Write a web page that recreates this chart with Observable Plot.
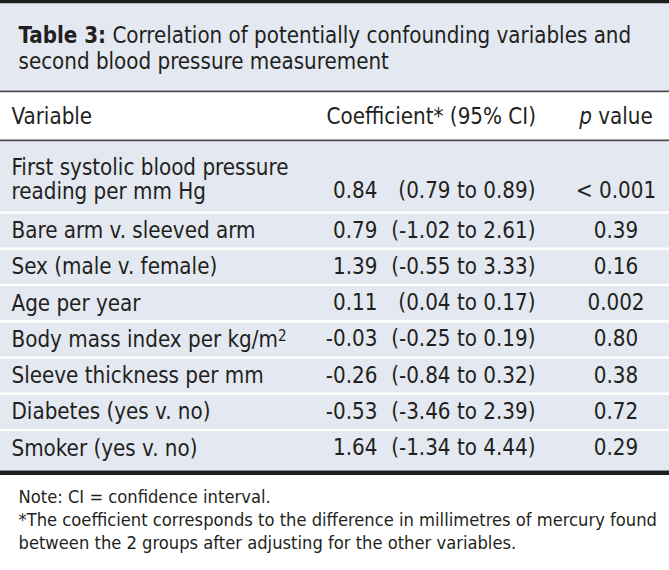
<!DOCTYPE html>
<html>
<head>
<meta charset="utf-8">
<script src="https://cdn.jsdelivr.net/npm/d3@7"></script>
<script src="https://cdn.jsdelivr.net/npm/@observablehq/plot@0.6"></script>
<style>
  html, body { margin: 0; padding: 0; background: #ffffff; }
  #chart svg { display: block; }
</style>
</head>
<body>
<div id="chart"></div>
<script>
// ---- data ----
const titleBold = "Table 3:";
const titleRest = " Correlation of potentially confounding variables and";
const titleLine2 = "second blood pressure measurement";
const headerVariable = "Variable";
const headerCoef = "Coefficient* (95% CI)";
const headerP = ["p", " value"];
const variables = [
  "First systolic blood pressure\nreading per mm Hg",
  "Bare arm v. sleeved arm",
  "Sex (male v. female)",
  "Age per year",
  "Body mass index per kg/m²",
  "Sleeve thickness per mm",
  "Diabetes (yes v. no)",
  "Smoker (yes v. no)"
];
const coefficients = [0.84, 0.79, 1.39, 0.11, -0.03, -0.26, -0.53, 1.64];
const ciLow = [0.79, -1.02, -0.55, 0.04, -0.25, -0.84, -3.46, -1.34];
const ciHigh = [0.89, 2.61, 3.33, 0.17, 0.19, 0.32, 2.39, 4.44];
const pValues = ["< 0.001", "0.39", "0.16", "0.002", "0.80", "0.38", "0.72", "0.29"];
const notes = [
  "Note: CI = confidence interval.",
  "*The coefficient corresponds to the difference in millimetres of mercury found",
  "between the 2 groups after adjusting for the other variables."
];

// ---- style / layout ----
const W = 669, H = 570;
const FONT = "'DejaVu Sans Condensed', 'DejaVu Sans', sans-serif";
const INK = "#231f20";
const PANEL = "#e3e8f1";
const DARK = "#1e1e1e";
const RULE = "#4d4d4d";

const canvas = document.createElement("canvas");
const ctx = canvas.getContext("2d");
function measure(text, size, weight = "normal", style = "normal") {
  ctx.font = `${style} ${weight} ${size}px ${FONT}`;
  return ctx.measureText(text).width;
}
function fit(text, target, weight = "normal") {
  return 20 * target / measure(text, 20, weight);
}
const bodySize = fit("Bare arm v. sleeved arm", 244);
const titleSize = 20 * 613 / (measure(titleBold, 20, "bold") + measure(titleRest, 20));
const noteSize = fit(notes[1], 639);

const fmt = v => d3.format(".2f")(v).replace("\u2212", "-");

// rows layout
const bodyTop = 142, firstRowH = 70, rowH = 36.25, bodyBottom = 470.5;
const lineGap = 24;
const rows = variables.map((v, i) => {
  const top = i === 0 ? bodyTop : bodyTop + firstRowH + (i - 1) * rowH;
  const nLines = v.split("\n").length;
  const center = i === 0 ? top + 36.5 : top + 18;
  return {
    variable: v,
    coef: fmt(coefficients[i]),
    ci: `(${fmt(ciLow[i])} to ${fmt(ciHigh[i])})`,
    p: pValues[i],
    top,
    yVar: center,
    yNum: center + (nLines - 1) * lineGap / 2
  };
});
const separators = rows.slice(1).map(r => r.top);

const colVarX = 11, colCoefRight = 377, colCIRight = 535, colPCenter = 615.5;

const pW = measure(headerP[0], bodySize, "normal", "italic");
const vW = measure(headerP[1], bodySize);
const pStart = colPCenter - (pW + vW) / 2;
const titleBoldW = measure(titleBold, titleSize, "bold");

const bands = [
  {y1: 0, y2: 3.5, fill: DARK},
  {y1: 3.5, y2: 90.5, fill: PANEL},
  {y1: 90.5, y2: 92.5, fill: RULE},
  {y1: 92.5, y2: 139.5, fill: "#ffffff"},
  {y1: 139.5, y2: 141.5, fill: RULE},
  {y1: 141.5, y2: bodyBottom, fill: PANEL},
  {y1: bodyBottom, y2: bodyBottom + 4.5, fill: DARK}
];

const chart = Plot.plot({
  width: W,
  height: H,
  margin: 0,
  x: {type: "identity", axis: null},
  y: {type: "identity", axis: null},
  style: {background: "#ffffff"},
  marks: [
    Plot.rect(bands, {x1: 0, x2: W, y1: "y1", y2: "y2", fill: "fill"}),
    Plot.ruleY(separators, {stroke: "#ffffff", strokeWidth: 2.5}),
    // title
    Plot.text([titleBold], {x: 18, y: 35, text: d => d, textAnchor: "start", fontSize: titleSize, fontWeight: "bold", fontFamily: FONT, fill: INK}),
    Plot.text([titleRest], {x: 18 + titleBoldW, y: 35, text: d => d, textAnchor: "start", fontSize: titleSize, fontFamily: FONT, fill: INK}),
    Plot.text([titleLine2], {x: 18, y: 61, text: d => d, textAnchor: "start", fontSize: titleSize, fontFamily: FONT, fill: INK}),
    // header
    Plot.text([headerVariable], {x: colVarX, y: 116.5, text: d => d, textAnchor: "start", fontSize: bodySize, fontFamily: FONT, fill: INK}),
    Plot.text([headerCoef], {x: 326, y: 116.5, text: d => d, textAnchor: "start", fontSize: bodySize, fontFamily: FONT, fill: INK}),
    Plot.text([headerP[0]], {x: pStart, y: 116.5, text: d => d, textAnchor: "start", fontSize: bodySize, fontStyle: "italic", fontFamily: FONT, fill: INK}),
    Plot.text([headerP[1]], {x: pStart + pW, y: 116.5, text: d => d, textAnchor: "start", fontSize: bodySize, fontFamily: FONT, fill: INK}),
    // body
    Plot.text(rows, {x: colVarX, y: "yVar", text: "variable", textAnchor: "start", lineHeight: lineGap / bodySize, fontSize: bodySize, fontFamily: FONT, fill: INK}),
    Plot.text(rows, {x: colCoefRight, y: "yNum", text: "coef", textAnchor: "end", fontSize: bodySize, fontFamily: FONT, fill: INK}),
    Plot.text(rows, {x: colCIRight, y: "yNum", text: "ci", textAnchor: "end", fontSize: bodySize, fontFamily: FONT, fill: INK}),
    Plot.text(rows, {x: colPCenter, y: "yNum", text: "p", textAnchor: "middle", fontSize: bodySize, fontFamily: FONT, fill: INK}),
    // notes
    Plot.text(notes, {x: 18, y: (d, i) => 497 + i * 23, text: d => d, textAnchor: "start", fontSize: noteSize, fontFamily: FONT, fill: INK})
  ]
});

// render the squared unit as a proper superscript
d3.select(chart).selectAll("text").each(function() {
  const t = this.textContent;
  if (this.childElementCount === 0 && t.endsWith("²")) {
    const sel = d3.select(this);
    sel.text(t.slice(0, -1));
    sel.append("tspan").attr("dy", "-0.42em").attr("font-size", "0.68em").text("2");
  }
});

document.getElementById("chart").appendChild(chart);
</script>
</body>
</html>
